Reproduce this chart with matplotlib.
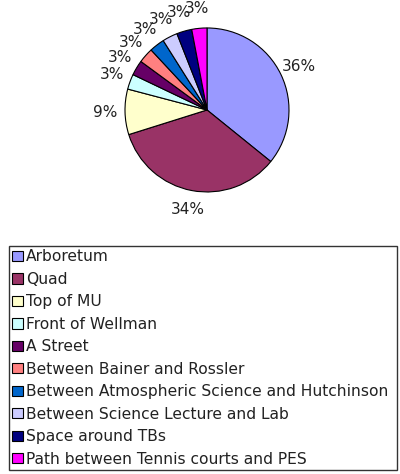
import matplotlib

matplotlib.use("Agg")
import matplotlib.pyplot as plt

locations = [
    "Arboretum",
    "Quad",
    "Top of MU",
    "Front of Wellman",
    "A Street",
    "Between Bainer and Rossler",
    "Between Atmospheric Science and Hutchinson",
    "Between Science Lecture and Lab",
    "Space around TBs",
    "Path between Tennis courts and PES",
]
counts = [24, 23, 6, 2, 2, 2, 2, 2, 2, 2]
colors = [
    "#9999FF", "#993366", "#FFFFCC", "#CCFFFF", "#660066",
    "#FF8080", "#0066CC", "#CCCCFF", "#000080", "#FF00FF",
]

plt.rcParams["font.family"] = ["DejaVu Sans"]

fig = plt.figure(figsize=(4.0, 4.74), dpi=100)
ax = fig.add_axes([0.3125, 0.595, 0.41, 0.346])
wedges, _, pcts = ax.pie(
    counts,
    colors=colors,
    startangle=90,
    counterclock=False,
    autopct="%1.0f%%",
    pctdistance=1.24,
    wedgeprops=dict(edgecolor="black", linewidth=0.8),
    textprops=dict(fontsize=11, color="#222222"),
)
ax.set_xlim(-1, 1)
ax.set_ylim(-1, 1)
ax.set_aspect("equal")

leg = fig.legend(
    wedges,
    locations,
    loc="upper left",
    bbox_to_anchor=(0.0225, 0.481, 0.97, 0.0),
    mode="expand",
    fontsize=11.2,
    frameon=True,
    fancybox=False,
    edgecolor="black",
    handlelength=0.65,
    handleheight=0.65,
    handletextpad=0.2,
    labelspacing=0.48,
    borderaxespad=0.0,
    borderpad=0.22,
)
leg.get_frame().set_linewidth(1.0)
for t in leg.get_texts():
    t.set_color("#222222")

fig.savefig("out.png", dpi=100)
